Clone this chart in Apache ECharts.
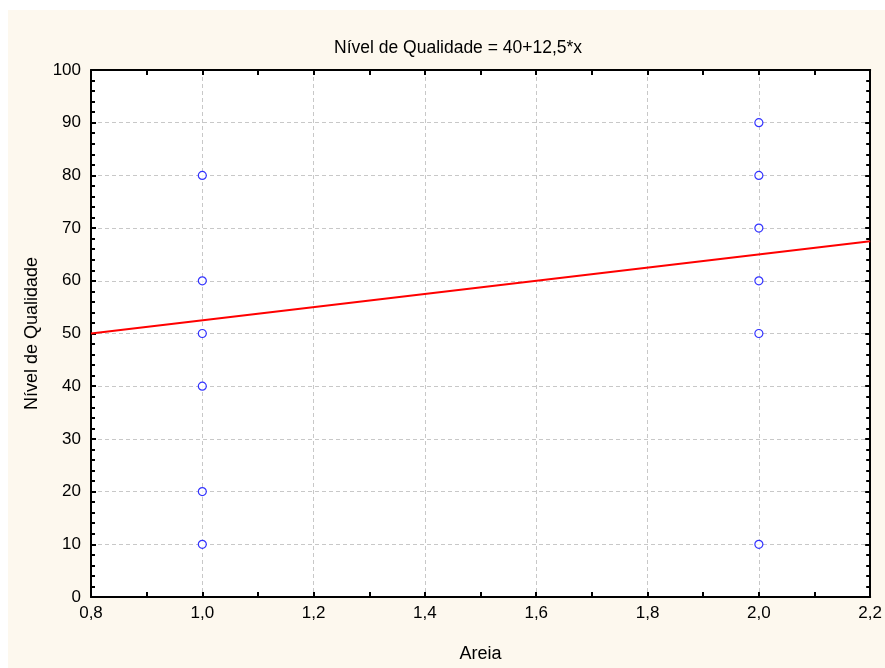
<!DOCTYPE html>
<html>
<head>
<meta charset="utf-8">
<script src="https://cdn.jsdelivr.net/npm/echarts@6/dist/echarts.min.js"></script>
<style>
  html, body { margin: 0; padding: 0; background: #ffffff; }
  #chart { width: 885px; height: 668px; }
</style>
</head>
<body>
<div id="chart"></div>
<script>
// dados
const areia1 = [1, 1, 1, 1, 1, 1];
const qualidade1 = [80, 60, 50, 40, 20, 10];
const areia2 = [2, 2, 2, 2, 2, 2];
const qualidade2 = [90, 80, 70, 60, 50, 10];
// reta ajustada (extremos do eixo)
const retaX = [0.8, 2.2];
const retaY = [50, 67.5];

const pontos = areia1.map((x, i) => [x, qualidade1[i]])
  .concat(areia2.map((x, i) => [x, qualidade2[i]]));
const reta = retaX.map((x, i) => [x, retaY[i]]);

const fonte = 'Liberation Sans, Arial, sans-serif';
const corEixo = '#000000';
const corGrade = '#c8c8c8';

const chart = echarts.init(document.getElementById('chart'));
const eixoX = (pos, labels) => ({
  type: 'value',
  position: pos,
  min: 0.8,
  max: 2.2,
  interval: 0.2,
  axisLine: { show: true, onZero: false, lineStyle: { color: corEixo, width: 2 } },
  axisTick: { show: true, inside: true, length: 5, lineStyle: { color: corEixo, width: 2 } },
  minorTick: { show: true, splitNumber: 2, length: 5, lineStyle: { color: corEixo, width: 2 } },
  axisLabel: {
    show: labels,
    color: '#000',
    fontFamily: fonte,
    fontSize: 17,
    margin: 8,
    formatter: v => v.toFixed(1).replace('.', ',')
  },
  splitLine: { show: labels, lineStyle: { color: corGrade, type: [4, 3], width: 1 } }
});
const eixoY = (pos, labels) => ({
  type: 'value',
  position: pos,
  min: 0,
  max: 100,
  interval: 10,
  axisLine: { show: true, onZero: false, lineStyle: { color: corEixo, width: 2 } },
  axisTick: { show: true, inside: true, length: 5, lineStyle: { color: corEixo, width: 2 } },
  minorTick: { show: true, splitNumber: 5, length: 4, lineStyle: { color: corEixo, width: 2 } },
  axisLabel: {
    show: labels,
    color: '#000',
    fontFamily: fonte,
    fontSize: 17,
    margin: 10
  },
  splitLine: { show: labels, lineStyle: { color: corGrade, type: [4, 3], width: 1 } }
});

const xPrincipal = eixoX('bottom', true);
xPrincipal.name = 'Areia';
xPrincipal.nameLocation = 'middle';
xPrincipal.nameGap = 48;
xPrincipal.nameTextStyle = { color: '#000', fontFamily: fonte, fontSize: 18 };

const yPrincipal = eixoY('left', true);
yPrincipal.name = 'Nível de Qualidade';
yPrincipal.nameLocation = 'middle';
yPrincipal.nameGap = 50;
yPrincipal.nameTextStyle = { color: '#000', fontFamily: fonte, fontSize: 18 };

const option = {
  animation: false,
  backgroundColor: '#ffffff',
  graphic: [{
    type: 'rect',
    z: -10,
    silent: true,
    shape: { x: 8, y: 10, width: 877, height: 658 },
    style: { fill: '#fdf8ee' }
  }],
  title: {
    text: 'Nível de Qualidade = 40+12,5*x',
    left: 329,
    top: 34,
    textStyle: { color: '#000', fontFamily: fonte, fontSize: 17.5, fontWeight: 'normal' }
  },
  grid: {
    left: 91,
    right: 10,
    top: 70,
    bottom: 71,
    show: true,
    backgroundColor: '#ffffff',
    borderWidth: 0
  },
  xAxis: [xPrincipal, eixoX('top', false)],
  yAxis: [yPrincipal, eixoY('right', false)],
  series: [
    {
      type: 'line',
      data: reta,
      symbol: 'none',
      lineStyle: { color: '#ff0000', width: 2 },
      z: 3
    },
    {
      type: 'scatter',
      data: pontos,
      symbol: 'circle',
      symbolSize: 8,
      itemStyle: { color: '#ffffff', borderColor: '#0000ff', borderWidth: 1.2 },
      z: 4
    }
  ]
};
chart.setOption(option);
</script>
</body>
</html>
